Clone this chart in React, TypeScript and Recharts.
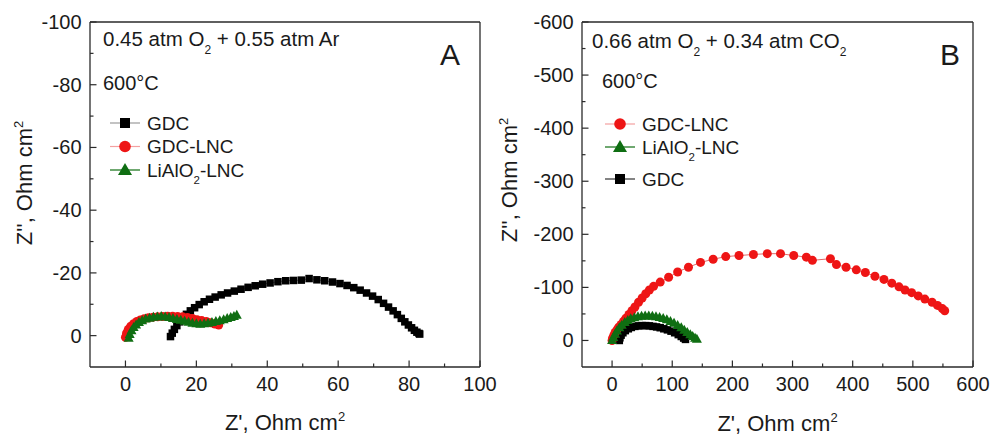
import React from 'react';
import { ScatterChart, Scatter, XAxis, YAxis } from 'recharts';

const FONT = '"Liberation Sans", Arial, Helvetica, sans-serif';
const AX = '#2a2a2a';
const TXT = '#1a1a1a';
const BLACK = '#000000';
const RED = '#ee1515';
const GREEN = '#0f6e12';

// ---------- Panel A: 0.45 atm O2 + 0.55 atm Ar, 600°C  [Z', Z''] ----------
const GDC_A: [number, number][] = [
  [12.7, 0.3], [13.2, -0.8], [13.8, -2.0], [14.5, -3.2], [15.3, -4.4], [16.2, -5.6], [17.2, -6.8],
  [18.3, -7.9], [19.5, -8.9], [20.8, -9.9], [22.2, -10.8], [23.7, -11.6], [25.3, -12.3], [27.0, -13.0],
  [28.8, -13.6], [30.7, -14.2], [32.6, -14.8], [34.6, -15.4], [36.6, -15.9], [38.7, -16.4], [40.8, -16.8],
  [43.0, -17.2], [45.2, -17.5], [47.4, -17.6], [49.6, -17.7], [51.8, -18.2], [54.0, -17.8], [56.2, -17.5],
  [58.4, -17.1], [60.5, -16.6], [62.5, -16.0], [64.4, -15.3], [66.2, -14.5], [68.0, -13.6], [69.7, -12.6],
  [71.3, -11.5], [72.8, -10.3], [74.2, -9.1], [75.5, -7.9], [76.7, -6.7], [77.8, -5.5], [78.8, -4.4],
  [79.8, -3.4], [80.7, -2.5], [81.5, -1.7], [82.2, -1.1], [82.8, -0.7], [83.0, -0.5],
];
const GDC_LNC_A: [number, number][] = [
  [0.0, 0.5], [0.3, -0.8], [0.8, -2.0], [1.5, -3.0], [2.3, -3.8], [3.2, -4.5], [4.2, -5.0], [5.3, -5.4],
  [6.5, -5.7], [7.8, -5.9], [9.1, -6.0], [10.5, -6.1], [11.9, -6.2], [13.3, -6.2], [14.7, -6.1],
  [16.1, -6.0], [17.5, -5.8], [18.9, -5.5], [20.2, -5.1], [21.5, -4.8], [22.8, -4.5], [24.0, -4.1],
  [25.2, -3.7], [26.3, -3.4],
];
const LIALO2_LNC_A: [number, number][] = [
  [0.9, 0.8], [1.2, -0.4], [1.7, -1.6], [2.3, -2.6], [3.0, -3.4], [3.8, -4.2], [4.7, -4.8], [5.7, -5.3],
  [6.8, -5.6], [7.9, -5.9], [9.0, -6.0], [10.1, -6.1], [11.2, -6.0], [12.3, -5.8], [13.4, -5.5],
  [14.5, -5.2], [15.6, -4.9], [16.7, -4.6], [17.8, -4.3], [18.9, -4.0], [20.0, -3.8], [21.1, -3.7],
  [22.2, -3.8], [23.3, -4.0], [24.4, -4.2], [25.5, -4.5], [26.6, -4.8], [27.7, -5.1], [28.7, -5.5],
  [29.7, -5.8], [30.6, -6.1], [31.4, -6.5],
];

// ---------- Panel B: 0.66 atm O2 + 0.34 atm CO2, 600°C ----------
const GDC_LNC_B: [number, number][] = [
  [0, 0], [1, -5], [3, -10], [5, -15], [8, -20], [11, -25], [15, -30], [19, -36], [23, -42], [28, -49],
  [33, -56], [38, -63], [44, -72], [50, -80], [56, -88], [62, -95], [69, -102], [80, -110], [94, -119],
  [109, -129], [127, -138], [147, -147], [168, -153], [189, -158], [211, -160], [235, -162], [258, -163.5],
  [280, -163.5], [302, -160], [323, -157], [333, -151], [363, -154], [373, -143], [389, -138], [406, -133],
  [421, -128], [437, -121], [452, -115], [465, -108], [477, -101], [487, -95], [498, -90], [509, -84],
  [520, -78], [532, -72], [541, -66], [549, -60], [553, -56],
];
const LIALO2_LNC_B: [number, number][] = [
  [0, 0], [2, -6], [5, -12], [8, -18], [12, -24], [16, -29], [21, -34], [26, -38], [31, -41], [37, -43],
  [43, -45], [49, -46], [55, -46.5], [61, -46.5], [67, -46], [73, -45], [79, -43.5], [85, -41.5],
  [91, -39], [97, -36], [103, -32.5], [109, -28.5], [115, -24], [120, -19.5], [125, -15], [130, -11],
  [134, -7.5], [138, -4.5], [141, -2.5],
];
const GDC_B: [number, number][] = [
  [12, 0], [13, -5], [15, -10], [18, -14.5], [22, -18.5], [27, -22], [32, -24.5], [38, -26.5], [44, -27.5],
  [50, -28], [56, -28], [62, -27.5], [68, -26.5], [74, -25.5], [80, -24], [86, -22], [92, -20], [98, -17.5],
  [104, -14.5], [110, -11], [115, -7.5], [119, -4.5], [122, -2],
];

// ---------- ticks ----------
const X_TICKS_A = [0, 10, 20, 30, 40, 50, 60, 70, 80, 90, 100];
const X_MAJOR_A = [0, 20, 40, 60, 80, 100];
const Y_TICKS_A = [-100, -90, -80, -70, -60, -50, -40, -30, -20, -10, 0];
const Y_MAJOR_A = [-100, -80, -60, -40, -20, 0];
const X_TICKS_B = [0, 50, 100, 150, 200, 250, 300, 350, 400, 450, 500, 550, 600];
const X_MAJOR_B = [0, 100, 200, 300, 400, 500, 600];
const Y_TICKS_B = [-600, -550, -500, -450, -400, -350, -300, -250, -200, -150, -100, -50, 0];
const Y_MAJOR_B = [-600, -500, -400, -300, -200, -100, 0];

const toPts = (a: [number, number][]) => a.map(([x, y]) => ({ x, y }));

const squareShape = (fill: string, s: number) => (p: any) => (
  <rect x={p.cx - s / 2} y={p.cy - s / 2} width={s} height={s} fill={fill} />
);
const circleShape = (fill: string, r: number) => (p: any) => (
  <circle cx={p.cx} cy={p.cy} r={r} fill={fill} />
);
const triShape = (fill: string, w: number, h: number) => (p: any) => (
  <path
    d={`M${p.cx},${p.cy - h * 0.6}L${p.cx + w / 2},${p.cy + h * 0.4}L${p.cx - w / 2},${p.cy + h * 0.4}Z`}
    fill={fill}
  />
);

const makeXTick = (majors: number[]) => (p: any) => {
  const major = majors.includes(p.payload.value);
  return (
    <g>
      <line x1={p.x} x2={p.x} y1={p.y} y2={p.y - (major ? 6.5 : 3.5)} stroke={AX} strokeWidth={1.2} />
      {major && (
        <text x={p.x} y={p.y + 23.5} textAnchor="middle" fontSize={20} fontFamily={FONT} fill={TXT}>
          {p.payload.value}
        </text>
      )}
    </g>
  );
};
const makeYTick = (majors: number[]) => (p: any) => {
  const major = majors.includes(p.payload.value);
  return (
    <g>
      <line x1={p.x} x2={p.x + (major ? 6.5 : 3.5)} y1={p.y} y2={p.y} stroke={AX} strokeWidth={1.2} />
      {major && (
        <text x={p.x - 8.5} y={p.y + 7} textAnchor="end" fontSize={20} fontFamily={FONT} fill={TXT}>
          {p.payload.value}
        </text>
      )}
    </g>
  );
};

const axisLine = { stroke: AX, strokeWidth: 1.3 };

type PanelProps = {
  width: number;
  xDomain: [number, number];
  yDomain: [number, number];
  xTicks: number[];
  xMajor: number[];
  yTicks: number[];
  yMajor: number[];
  margin: { top: number; right: number; bottom: number; left: number };
  children: React.ReactNode;
};

function Panel({ width, xDomain, yDomain, xTicks, xMajor, yTicks, yMajor, margin, children }: PanelProps) {
  return (
    <ScatterChart width={width} height={437} margin={margin}>
      <XAxis
        type="number"
        dataKey="x"
        domain={xDomain}
        allowDataOverflow
        ticks={xTicks}
        interval={0}
        height={1}
        tickSize={0}
        tickMargin={0}
        tickLine={false}
        axisLine={axisLine}
        tick={makeXTick(xMajor)}
      />
      <XAxis xAxisId="top" orientation="top" type="number" dataKey="x" domain={xDomain} allowDataOverflow
        height={1} tick={false} tickLine={false} axisLine={axisLine} />
      <YAxis
        type="number"
        dataKey="y"
        domain={yDomain}
        reversed
        allowDataOverflow
        ticks={yTicks}
        interval={0}
        width={1}
        tickSize={0}
        tickMargin={0}
        tickLine={false}
        axisLine={axisLine}
        tick={makeYTick(yMajor)}
      />
      <YAxis yAxisId="right" orientation="right" type="number" dataKey="y" domain={yDomain} reversed allowDataOverflow
        width={1} tick={false} tickLine={false} axisLine={axisLine} />
      {children}
    </ScatterChart>
  );
}

const T = (props: any) => <text fontFamily={FONT} fill={TXT} style={{ whiteSpace: 'pre' }} {...props} />;

function LegendRow({ y, x, label, marker, lineColor }: any) {
  return (
    <g>
      <line x1={x - 15} x2={x + 15} y1={y} y2={y} stroke={lineColor} strokeWidth={1.2} />
      {marker === 'square' && <rect x={x - 5} y={y - 5} width={10} height={10} fill={BLACK} />}
      {marker === 'circle' && <circle cx={x} cy={y} r={5.8} fill={RED} />}
      <T x={x + 22} y={y + 6.5} fontSize={19}>{label}</T>
    </g>
  );
}

export default function App() {
  return (
    <div style={{ position: 'absolute', left: 0, top: 0, width: 990, height: 437, background: '#fff', overflow: 'hidden' }}>
      <div style={{ position: 'absolute', left: 0, top: 0 }}>
        <Panel
          width={520}
          xDomain={[-10, 100]}
          yDomain={[-100, 10]}
          xTicks={X_TICKS_A}
          xMajor={X_MAJOR_A}
          yTicks={Y_TICKS_A}
          yMajor={Y_MAJOR_A}
          margin={{ top: 21, right: 39, bottom: 69, left: 89 }}
        >
          <Scatter data={toPts(GDC_A)} isAnimationActive={false} line={{ stroke: '#888', strokeWidth: 1 }}
            lineType="joint" shape={squareShape(BLACK, 7.5)} />
          <Scatter data={toPts(GDC_LNC_A)} isAnimationActive={false} line={{ stroke: '#f08a8a', strokeWidth: 1 }}
            lineType="joint" shape={circleShape(RED, 4.5)} />
          <Scatter data={toPts(LIALO2_LNC_A)} isAnimationActive={false} line={{ stroke: GREEN, strokeWidth: 1 }}
            lineType="joint" shape={triShape(GREEN, 10, 9)} />
        </Panel>
      </div>
      <div style={{ position: 'absolute', left: 495, top: 0 }}>
        <Panel
          width={495}
          xDomain={[-50, 600]}
          yDomain={[-600, 50]}
          xTicks={X_TICKS_B}
          xMajor={X_MAJOR_B}
          yTicks={Y_TICKS_B}
          yMajor={Y_MAJOR_B}
          margin={{ top: 21, right: 16, bottom: 69, left: 86 }}
        >
          <Scatter data={toPts(GDC_B)} isAnimationActive={false} line={{ stroke: '#333', strokeWidth: 1 }}
            lineType="joint" shape={squareShape(BLACK, 7.5)} />
          <Scatter data={toPts(GDC_LNC_B)} isAnimationActive={false} line={{ stroke: '#e06a6a', strokeWidth: 1 }}
            lineType="joint" shape={circleShape(RED, 4.5)} />
          <Scatter data={toPts(LIALO2_LNC_B)} isAnimationActive={false} line={{ stroke: GREEN, strokeWidth: 1 }}
            lineType="joint" shape={triShape(GREEN, 10, 9)} />
        </Panel>
      </div>
      <svg width={990} height={437} style={{ position: 'absolute', left: 0, top: 0, pointerEvents: 'none' }}>
        {/* Panel A texts */}
        <T x={103} y={46} fontSize={20.5}>
          0.45 atm O<tspan fontSize={12} dy={8}>2</tspan><tspan dy={-8}> + 0.55 atm Ar</tspan>
        </T>
        <T x={103} y={90} fontSize={20}>600°C</T>
        <T x={440} y={65} fontSize={30}>A</T>
        <LegendRow x={125} y={123} label="GDC" marker="square" lineColor="#9a9a9a" />
        <LegendRow x={125} y={146.5} label="GDC-LNC" marker="circle" lineColor="#f4a0a0" />
        <g>
          <line x1={110} x2={140} y1={170} y2={170} stroke={GREEN} strokeWidth={1.2} />
          <path d={`M125,163L132,175L118,175Z`} fill={GREEN} />
          <T x={147} y={176.5} fontSize={19}>LiAlO<tspan fontSize={11.5} dy={7}>2</tspan><tspan dy={-7}>-LNC</tspan></T>
        </g>
        <T x={285} y={430} fontSize={22} textAnchor="middle">
          Z', Ohm cm<tspan fontSize={13} dy={-9}>2</tspan>
        </T>
        <T transform="translate(31.5,183) rotate(-90)" x={0} y={0} fontSize={22} textAnchor="middle">
          Z'', Ohm cm<tspan fontSize={13} dy={-9}>2</tspan>
        </T>

        {/* Panel B texts */}
        <T x={592} y={48} fontSize={20.5}>
          0.66 atm O<tspan fontSize={12} dy={8}>2</tspan><tspan dy={-8}> + 0.34 atm CO</tspan><tspan fontSize={12} dy={8}>2</tspan>
        </T>
        <T x={602} y={88} fontSize={20}>600°C</T>
        <T x={940} y={65} fontSize={30}>B</T>
        <LegendRow x={620} y={124} label="GDC-LNC" marker="circle" lineColor="#f4a0a0" />
        <g>
          <line x1={605} x2={635} y1={147} y2={147} stroke={GREEN} strokeWidth={1.2} />
          <path d={`M620,140L627,152L613,152Z`} fill={GREEN} />
          <T x={642} y={153.5} fontSize={19}>LiAlO<tspan fontSize={11.5} dy={7}>2</tspan><tspan dy={-7}>-LNC</tspan></T>
        </g>
        <LegendRow x={620} y={179} label="GDC" marker="square" lineColor="#333" />
        <T x={777.5} y={431} fontSize={22} textAnchor="middle">
          Z', Ohm cm<tspan fontSize={13} dy={-9}>2</tspan>
        </T>
        <T transform="translate(516.7,180) rotate(-90)" x={0} y={0} fontSize={22} textAnchor="middle">
          Z'', Ohm cm<tspan fontSize={13} dy={-9}>2</tspan>
        </T>
      </svg>
    </div>
  );
}
